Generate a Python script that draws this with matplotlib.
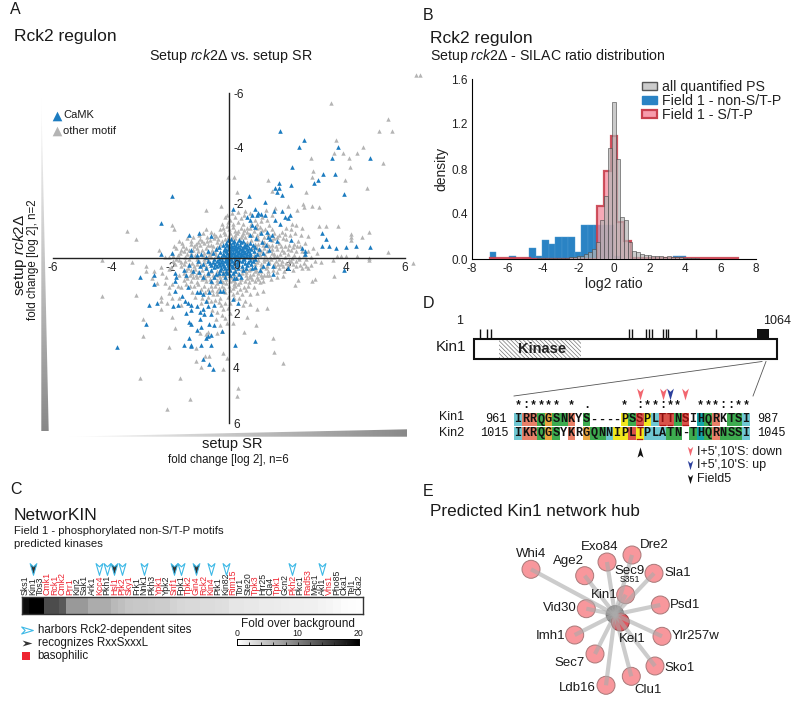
import matplotlib
matplotlib.use('Agg')
import matplotlib.pyplot as plt
import numpy as np
from matplotlib.patches import Rectangle, Polygon, Circle, Patch
from matplotlib.path import Path

plt.rcParams['font.family'] = ['Liberation Sans', 'DejaVu Sans']
plt.rcParams['mathtext.fontset'] = 'custom'
plt.rcParams['mathtext.it'] = 'Liberation Sans:italic'
plt.rcParams['mathtext.rm'] = 'Liberation Sans'
plt.rcParams['hatch.linewidth'] = 0.5
plt.rcParams['axes.unicode_minus'] = False

W, H = 800, 705

# panel A (setup SR, setup rck2D)
camk = [(1.75,-4.63),(2.56,-4.30),(2.38,-4.05),(3.73,-4.05),(3.51,-3.64),(4.82,-3.64),(2.15,-3.31),(3.20,-3.05),
        (3.60,-3.06),(3.05,-2.83),(2.91,-2.72),(1.70,-2.72),(1.58,-2.56),(1.72,-2.56),(2.10,-2.64),(1.65,-2.40),(1.80,-2.28),
        (3.93,-2.31),(-1.94,-2.24),(0.67,-2.24),(1.23,-2.04),(0.14,-1.77),(0.88,-1.78),(1.00,-1.65),(1.08,-1.60),(1.22,-1.57),
        (0.95,-1.55),(0.80,-1.55),(0.62,-1.50),(0.70,-1.38),(1.55,-1.72),(1.80,-1.72),(1.90,-1.50),(2.00,-1.45),(2.08,-1.55),
        (1.58,-1.40),(1.75,-1.25),(0.78,-1.20),(0.90,-1.12),(-2.33,-1.28),(3.18,-0.90),(3.32,-0.70),(3.18,-0.45),(3.40,-0.42),
        (3.64,-0.35),(3.98,-0.40),(4.32,-0.44),(4.82,-0.40),(2.50,-0.38),(2.58,-0.25),(2.60,-0.15),(-1.36,-0.85),(-1.02,-0.92),
        (-0.60,-0.80),(1.30,-0.95),(1.45,-0.85),(1.10,-0.90),(1.40,-0.70),(1.65,-0.62),(2.10,-0.65),(-2.32,-0.16),(-1.94,-0.20),
        (-1.30,-0.28),(-1.28,-0.12),(-0.95,-0.15),(1.50,0.30),(2.02,0.35),(3.93,0.42),(-1.02,0.50),(1.50,0.58),(-3.03,0.70),
        (-2.55,0.62),(-1.85,0.55),(-1.80,0.70),(-1.85,0.85),(-1.45,0.62),(-2.55,0.95),(-1.85,1.20),(-1.40,1.05),(-1.10,1.25),
        (-1.00,1.25),(-0.90,1.30),(-0.68,1.25),(-0.30,1.20),(-0.20,1.20),(-1.60,1.38),(-1.50,1.55),(-1.40,1.62),(-2.73,1.70),
        (-2.45,1.65),(-1.92,1.75),(-1.75,1.72),(-1.30,1.70),(-1.10,1.75),(-0.78,1.58),(-0.90,1.85),(-0.70,1.75),(-0.52,1.70),
        (0.15,1.50),(0.30,1.65),(-1.45,2.00),(-1.30,1.90),(-1.00,1.95),(-0.85,2.05),(-0.62,2.05),(-1.00,2.20),(-1.35,2.32),
        (-1.28,2.40),(-2.82,2.41),(-0.95,2.50),(-0.68,2.40),(-0.52,2.42),(-1.10,2.60),(-0.25,2.65),(-0.70,2.85),(-0.62,2.80),
        (-0.80,2.90),(-1.35,2.90),(-1.30,3.15),(-1.55,3.18),(-1.28,3.20),(-0.95,3.18),(-0.62,3.18),(0.20,3.15),(0.90,3.00),
        (-3.83,3.25),(-0.88,3.68),(-0.68,3.85),(-0.55,4.05)]

camk_core = [(-0.02,-0.65),(0.08,-0.68),(0.18,-0.62),(0.33,-0.66),(0.47,-0.63),(-0.10,-0.56),(0.03,-0.53),(0.13,-0.58),(0.27,-0.54),
             (0.40,-0.57),(0.55,-0.52),(0.72,-0.56),(-0.20,-0.47),(-0.06,-0.49),(0.07,-0.45),(0.17,-0.48),(0.24,-0.44),(0.36,-0.47),
             (0.50,-0.45),(0.63,-0.49),(0.83,-0.46),(-0.33,-0.40),(-0.12,-0.38),(0.01,-0.42),(0.11,-0.39),(0.21,-0.37),(0.31,-0.41),
             (0.44,-0.38),(0.56,-0.40),(0.68,-0.37),(0.90,-0.41),(-0.45,-0.32),(-0.18,-0.30),(-0.03,-0.34),(0.06,-0.31),(0.16,-0.33),
             (0.27,-0.29),(0.38,-0.32),(0.47,-0.30),(0.60,-0.34),(0.75,-0.31),(1.02,-0.33),(-0.70,-0.25),(-0.30,-0.23),(-0.09,-0.26),
             (0.03,-0.24),(0.13,-0.22),(0.24,-0.26),(0.33,-0.23),(0.43,-0.25),(0.55,-0.22),(0.66,-0.26),(0.85,-0.24),(-0.55,-0.18),
             (-0.22,-0.16),(-0.07,-0.19),(0.05,-0.17),(0.15,-0.20),(0.22,-0.15),(0.30,-0.18),(0.41,-0.16),(0.51,-0.19),(0.60,-0.15),
             (0.72,-0.18),(0.95,-0.16),(-1.10,-0.10),(-0.38,-0.08),(-0.16,-0.12),(-0.02,-0.09),(0.08,-0.11),(0.17,-0.07),(0.26,-0.10),
             (0.36,-0.08),(0.46,-0.12),(0.58,-0.09),(0.70,-0.11),(0.88,-0.08),(-0.80,-0.04),(-0.28,-0.03),(-0.10,-0.05),(0.04,-0.02),
             (0.20,-0.04),(0.32,-0.03),(0.50,-0.05),(0.67,-0.03),(-0.50,0.05),(-0.35,0.03),(-0.23,0.06),(-0.10,0.04),(-0.03,0.07),
             (0.06,0.05),(0.20,0.03),(0.35,0.06),(0.52,0.04),(0.70,0.07),(0.90,0.05),(-1.05,0.12),(-0.72,0.10),(-0.55,0.13),(-0.40,0.11),
             (-0.28,0.14),(-0.15,0.10),(-0.05,0.13),(0.10,0.11),(0.26,0.14),(0.44,0.10),(0.65,0.13),(0.82,0.11),(-0.90,0.20),(-0.65,0.18),
             (-0.48,0.21),(-0.33,0.19),(-0.20,0.22),(-0.08,0.18),(0.03,0.21),(0.16,0.19),(0.32,0.22),(0.55,0.18),(0.75,0.21),(-1.00,0.28),
             (-0.60,0.26),(-0.42,0.29),(-0.30,0.27),(-0.17,0.30),(-0.04,0.26),(0.09,0.29),(0.28,0.27),(0.45,0.30),(0.62,0.26),(-0.78,0.36),
             (-0.50,0.34),(-0.27,0.37),(-0.13,0.35),(-0.02,0.38),(0.14,0.34),(0.30,0.37),(0.58,0.35),(0.80,0.38),(-0.62,0.45),(-0.30,0.43),
             (-0.10,0.46),(0.05,0.44),(0.20,0.47),(0.48,0.43),(-0.70,0.55),(-0.35,0.53),(-0.08,0.56),(0.12,0.54),(0.35,0.57),(-0.50,0.70),
             (-0.15,0.68),(0.18,0.72),(-0.45,0.58),(-0.20,0.55),(0.05,0.60),(0.25,0.72),(0.40,0.68),(1.05,0.42),(0.90,0.32),
             (1.12,-0.60),(1.25,-0.48),(1.32,-0.78),(0.92,-0.72),(0.72,-0.82),(1.15,-0.20),(1.32,0.18),(1.15,0.28),(1.38,-0.30),(-1.35,0.25),
             (-1.52,0.42),(-1.22,0.48),(-0.88,0.68),(-0.62,0.82),(-0.30,0.85)]

other_motif = [(3.48,-5.63),(5.42,-5.05),(5.13,-4.63),(5.57,-4.63),(3.64,-4.30),(4.56,-4.05),(3.59,-3.83),(3.88,-3.83),
               (4.35,-3.83),(4.10,-3.64),(2.78,-3.64),(5.26,-3.47),(4.13,-3.31),(2.88,-3.18),(2.84,-2.94),(3.95,-2.83),
               (1.32,-2.83),(-0.02,-2.94),(0.17,-2.94),(4.70,-2.56),(1.45,-2.45),(2.61,-2.39),(0.28,-2.39),(6.37,-6.65),(6.52,-6.65),
               (6.28,0.18),(4.78,-0.93),(4.15,-0.88),(4.15,-0.76),(4.15,-0.64),(4.52,-0.75),(3.70,-1.18),(3.31,-1.18),(3.07,-1.18),
               (3.08,-1.85),(2.84,-1.90),(2.51,-1.97),(2.56,-1.87),(2.31,-1.75),(2.02,-1.90),(1.57,-1.81),(-0.27,-1.90),(-0.80,-1.73),
               (-1.93,-1.21),(-1.88,-1.04),(-3.48,-0.99),(-3.18,-0.70),(-2.39,-0.29),(-4.32,0.06),(-3.32,0.13),(5.41,-0.21),(4.78,0.00),
               (4.78,0.08),(4.35,-0.06),(4.00,-0.09),(3.83,-0.06),(3.68,-0.09),(3.55,0.08),(3.12,0.15),(2.93,0.12),(3.58,0.67),(2.82,0.85),
               (2.93,0.76),(2.34,0.81),(2.25,0.97),(1.83,0.64),(-2.84,0.30),(-2.84,0.48),(-2.55,0.46),(-4.32,1.39),(-3.18,1.35),(-2.94,2.21),
               (-2.94,2.84),(-2.31,1.43),(-2.31,1.57),(-2.31,1.87),(-1.93,2.14),(-1.84,2.54),(-2.05,3.24),(-3.05,4.37),(-1.68,4.38),(-1.32,5.14),
               (-2.11,5.50),(0.30,4.73),(0.26,5.03),(1.85,3.81),(1.55,3.42),(1.51,2.90),(0.91,2.45),(0.52,2.69),(0.60,2.14),(1.28,1.82),
               (0.97,1.85),(1.17,1.21),(0.94,1.29),(0.66,1.03),(0.15,2.36),(-0.06,2.36),(-0.23,2.64),(-0.42,2.72),(-0.19,3.47),(-0.06,3.65),
               (-0.19,4.03),(-1.14,3.75),(-0.95,3.97),(-0.82,3.55),(-0.67,3.55),(-0.99,2.72),(-1.13,3.26),(-0.78,2.75),(-0.70,2.70),
               (-0.10,0.90),(-0.05,1.40),(-0.03,1.80),(0.02,2.00),(-0.15,1.65),(-0.30,1.45),(-0.55,1.30),(-0.35,1.10),(-0.60,1.00),(-0.85,1.00),
               (-1.05,0.95),(-1.30,0.85),(-1.55,0.80),(-1.75,1.00),(-2.05,1.05),(-2.45,0.90),(-2.15,0.70),(-2.30,0.55),(-2.05,0.40),
               (0.15,1.10),(0.30,0.95),(0.55,0.85),(0.80,0.75),(1.00,0.75),(1.15,0.85),(0.45,1.30),(0.85,1.05),(1.35,0.60),(1.65,0.70)]

other_core = [(0.20,-1.50),(0.50,-1.55),(0.90,-1.40),(-0.05,-1.30),(0.30,-1.30),(0.75,-1.25),(1.10,-1.35),(1.35,-1.20),(-0.25,-1.25),
              (-0.90,-0.90),(-0.60,-0.95),(-0.45,-0.80),(-0.20,-1.10),(0.00,-1.05),(0.20,-1.00),(0.40,-1.10),(0.60,-0.95),(0.85,-1.00),
              (1.05,-0.95),(1.55,-0.90),(1.80,-0.95),(2.25,-0.90),(2.45,-0.85),(2.70,-0.80),(-1.60,-0.55),(-1.30,-0.50),(-1.05,-0.60),
              (-0.85,-0.55),(-0.65,-0.65),(-0.40,-0.60),(-0.15,-0.70),(0.10,-0.75),(0.35,-0.70),(0.55,-0.75),(0.75,-0.65),(1.00,-0.70),
              (1.20,-0.60),(1.45,-0.65),(1.70,-0.55),(1.95,-0.70),(2.20,-0.50),(2.60,-0.55),(2.85,-0.35),(3.00,-0.20),(-1.80,-0.35),
              (-1.55,-0.25),(-1.10,-0.35),(-0.80,-0.35),(-0.55,-0.45),(-0.30,-0.50),(0.45,-0.85),(0.90,-0.50),(1.10,-0.25),(1.35,-0.42),
              (1.55,-0.15),(1.80,-0.28),(2.00,-0.15),(2.30,-0.25),(2.80,-0.05),(-2.05,-0.05),(-1.75,-0.10),(-1.50,-0.05),(-1.15,-0.10),
              (-0.85,-0.20),(-0.45,-0.10),(1.40,-0.05),(1.65,-0.08),(1.90,-0.02),(2.15,0.00),(2.40,-0.05),(-1.70,0.08),(-1.50,0.12),
              (-1.35,0.05),(-1.10,0.05),(-0.85,0.05),(1.10,0.22),(1.35,0.15),(1.60,0.10),(1.80,0.12),(2.05,0.08),(2.30,0.12),(2.55,0.18),
              (2.80,0.25),(-1.65,0.30),(-1.40,0.35),(-1.15,0.40),(-0.95,0.25),(1.25,0.38),(1.70,0.35),(1.85,0.30),(2.30,0.30),(2.50,0.35),
              (2.70,0.35),(-1.55,0.55),(-1.25,0.55),(-1.10,0.70),(-0.85,0.60),(-0.65,0.75),(-0.50,0.70),(-0.30,0.70),(-0.10,0.75),(0.15,0.80),
              (0.45,0.55),(0.70,0.60),(1.00,0.55),(1.20,0.60),(-2.18,-0.02),(-1.92,0.12),(-1.83,0.22),(-1.58,-0.42),(-1.42,-0.72),(-1.22,-0.78),
              (-1.02,-0.82),(-0.75,-0.78),(-0.62,-0.48),(-0.50,-0.72),(-0.32,-0.82),(-0.12,-0.88),(0.05,-0.92),(0.28,-0.90),(0.68,-0.88),(0.95,-0.82),
              (1.18,-0.78),(1.38,-0.82),(1.62,-0.78),(1.85,-0.72),(2.05,-0.48),(2.35,-0.62),(2.42,-0.42),(-1.38,-0.30),(-1.20,-0.42),(-0.98,-0.48),
              (-0.72,-0.48),(-0.58,-0.30),(-0.88,-0.12),(-0.68,-0.12),(-0.60,-0.05),(0.80,-0.40),(1.00,-0.50),(1.15,-0.48),(1.28,-0.25),(1.48,-0.48),
              (1.62,-0.32),(1.92,-0.42),(2.12,-0.30),(1.05,-0.12),(1.22,-0.10),(1.45,-0.18),(1.75,-0.15),(2.20,-0.12),(2.55,-0.12),(2.62,0.02),
              (-1.95,-0.20),(-1.30,-0.18),(-1.05,-0.25),(-1.25,0.18),(-1.55,0.22),(-1.08,0.22),(-0.80,0.28),(0.88,0.20),(1.00,0.08),(1.18,0.02),
              (1.42,0.05),(1.52,0.22),(1.68,0.20),(1.95,0.18),(2.18,0.22),(2.42,0.25),(-1.45,0.45),(-1.28,0.42),(-1.05,0.52),(-0.92,0.42),(-0.72,0.50),
              (-0.55,0.62),(-0.38,0.60),(-0.22,0.62),(-0.02,0.50),(0.18,0.60),(0.32,0.55),(0.55,0.45),(0.68,0.45),(0.92,0.42),(1.10,0.48),(1.32,0.48),
              (1.50,0.45),(-1.72,0.62),(-1.42,0.72),(-1.22,0.68),(-0.92,0.78),(-0.78,0.85),(-0.42,0.80),(-0.22,0.88),(0.02,0.82),(0.28,0.72),(0.42,0.78),
              (0.62,0.72),(0.82,0.58),(0.95,0.68),(1.12,0.70),(1.42,0.75),(-1.45,0.95),(-1.18,1.02),(-0.95,1.12),(-0.70,1.12),(-0.48,1.02),(-0.25,1.00),
              (0.00,1.02),(0.18,0.95),(0.50,1.05),(0.68,0.88),(-0.92,1.45),(-0.72,1.40),(-0.40,1.30),(-0.12,1.22),(0.12,1.32),(0.28,1.22),(-0.62,1.55),
              (-0.35,1.60),(-0.20,1.85),(0.35,1.45),(0.55,1.55),(0.72,1.68),(-0.42,1.95),(-0.25,2.08),(0.05,1.62),(-0.80,-1.05),(-0.32,-1.05),(-0.08,-1.18),
              (0.12,-1.22),(0.48,-1.22),(0.60,-1.10),(1.05,-1.12),(1.22,-1.05),(1.48,-1.05),(0.10,-1.62),(0.32,-1.68),(0.55,-1.72),(0.72,-1.62),(-0.08,-1.55),
              (0.05,-1.40),(-0.15,-1.48),(0.42,-1.45),(0.95,-1.25),(1.12,-1.48),(1.30,-1.38),(1.25,-1.75),(1.45,-1.55),(2.15,-1.25),(2.30,-1.20),(2.48,-1.10),
              (2.10,-1.05),(1.95,-1.10),(-0.72,-0.22),(-0.92,-0.30),(0.62,-0.60),(0.22,-0.82),(0.48,-0.92),(0.78,-0.85),(0.92,-0.68),(1.12,-0.62),(1.30,-0.52),
              (0.95,-0.38),(1.05,-0.30),(1.18,-0.38),(0.98,-0.20),(0.85,-0.12),(0.80,0.00),(0.95,0.15),(1.20,0.12),(1.30,0.28),(1.08,0.32),(0.85,0.35),
              (0.72,0.40),(0.45,0.40),(0.22,0.40),(-0.10,0.52),(-0.22,0.48),(-0.42,0.48),(-0.60,0.48),(-0.70,0.62),(-0.85,0.15),(-0.72,0.02),(-0.62,-0.18),
              (-0.48,-0.22),(-0.42,-0.40),(-0.25,-0.62),(-0.05,-0.78),(0.22,-0.72),(0.40,-0.78),(-1.68,-0.18),(-1.48,-0.38),(-1.30,-0.62),(-0.98,-0.70)]

other_ring = [(-1.98,0.32),(-1.88,-0.42),(-1.72,-0.62),(-1.62,-0.30),(-1.42,-0.15),(-1.22,-0.30),(-1.12,-0.52),(-0.92,-0.62),(-0.75,-0.62),(-0.52,-0.88),
              (-0.38,-0.70),(-0.18,-0.95),(0.12,-1.12),(0.32,-0.98),(0.52,-1.02),(0.72,-1.08),(0.95,-1.08),(1.12,-1.02),(1.32,-0.88),(1.52,-0.72),(1.72,-0.85),
              (1.92,-0.88),(2.08,-0.82),(1.48,-0.32),(1.60,-0.42),(1.78,-0.42),(1.88,-0.22),(2.02,-0.32),(2.18,-0.40),(2.32,-0.45),(2.48,-0.25),(2.70,-0.25),
              (1.28,0.05),(1.52,-0.02),(1.72,0.02),(1.58,0.30),(1.78,0.22),(2.02,0.25),(2.12,0.12),(2.38,0.05),(2.62,0.28),(2.18,0.42),(1.88,0.48),(1.62,0.52),
              (1.28,0.62),(1.08,0.62),(0.88,0.48),(0.58,0.52),(-1.38,0.20),(-1.18,0.30),(-1.02,0.12),(-1.62,0.15),(-1.80,0.05),(-1.92,-0.08),(-1.48,0.65),
              (-1.32,0.62),(-1.12,0.60),(-0.98,0.62),(-0.82,0.72),(-0.58,0.88),(-0.42,0.92),(-0.28,0.80),(-0.12,0.62),(0.08,0.70),(0.22,0.88),(0.38,0.88),(0.58,0.62),
              (0.72,0.68),(0.88,0.85),(1.05,0.88),(-1.62,1.05),(-1.32,1.00),(-1.08,0.88),(-0.82,1.22),(-0.58,1.18),(-0.42,1.20),(-0.18,1.10),(0.05,1.15),(0.22,1.02),
              (0.38,1.12),(0.58,1.18),(0.72,1.32),(-1.25,1.22),(-1.15,1.42),(-0.95,1.62),(-0.75,1.58),(-0.48,1.52),(-0.28,1.72),(0.18,1.45),(0.48,1.72),(-0.58,1.88),
              (-0.45,2.22),(-0.12,2.18),(-0.32,2.45),(-1.72,1.45),(-1.62,1.72),(-1.95,1.45),(-2.12,1.62),(-2.05,1.28),(-1.95,0.95),(-2.18,0.92),(-2.32,0.32),(-2.62,0.72)]

# panel B, density per bin
blue_heights = [.065,0,0,.03,0,.005,.10,.03,.165,.13,.20,.20,.20,.06,.30,.30,.30,.30,.30,.03,0,0,0,0,0,0,0,0,.03,.03,0,0,0,0,0,0,0,0]
red_heights = [.005,.005,.005,.005,.005,.005,0,0,0,0,0,0,0,0,0,0,.47,.78,1.09,.33,.16,.005,.005,.005,.005,.005,.005,.005,.005,.005,
               .005,.005,.005,.005,.005,.005,.005]
grey_heights = [0,0,0,0,0,.002,.002,.003,.003,.003,.004,.004,.005,.005,.006,.006,.008,.008,.01,.012,.015,.02,.025,.03,.045,.06,.09,.15,.35,.56,.99,1.40,
                .89,.37,.35,.15,.07,.06,.045,.035,.035,.03,.025,.025,.02,.025,.015,.02,.015,.01,.01,.006,.005,.004,.004,.003,.003,.002,.002,0,0,0,0]

# panel C
kinases = ['Sks1','Kin1','Tos3','Cmk1','Rck1','Cmk2','Prr1','Kin2','Sak1','Ark1','Kcc4','Pkh1','Hsl1','Ptk2','Sky1','Frk1',
           'Nnk1','Pkh3','Ypk1','Ypk2','Snf1','Fpk1','Tpk2','Gin4','Rck2','Kin4','Ptk1','Kin82','Rim15','Tor1','Ste20','Tpk3',
           'Hrr25','Cla4','Tpk1','Gcn2','Pkh2','Pkc1','Rad53','Mec1','Akl1','Vhs1','Pho85','Cka1','Tel1','Cka2']
fold_values = [19,20,20,14,14,13,8,8,8,6.5,6.5,6.5,5.5,5,4.5,4.3,4.3,4.2,4,4,3.5,3.2,3,3,2.8,2.8,2.6,2.5,2,2,1.8,1.8,1.6,1.6,1.5,
               1.4,1.3,1.3,1.2,1.2,1,.8,.6,.3,.2,.1]
basophilic = ['Cmk1','Rck1','Cmk2','Prr1','Kcc4','Hsl1','Ptk2','Sky1','Ypk1','Snf1','Tpk2','Gin4','Rck2','Kin4','Rim15','Tpk3',
              'Tpk1','Pkh2','Rad53','Vhs1']
rck2_sites = ['Kcc4','Pkh1','Ptk2','Nnk1','Fpk1','Kin4','Kin82','Pkh2','Akl1']
rxxs_sites = ['Kin1','Hsl1','Snf1','Gin4']

# panel D
site_residues = [21,46,59,545,555,606,615,625,664,674,683,782,850]
kin1_seq = 'IRRQGSNKYS----PSSPLTTNSIHQRKTSI'
kin2_seq = 'IKRQGSYKRGQNNIPLTPLATN-THQRNSSI'
conservation = '*:**** * .    * :**:**  ***::**'
cell_colors = {'c':'#6fc7d2','s':'#e98068','g':'#3dab4f','o':'#eaa63f','y':'#f3e61c','t':'#12a5a8','r':'#d9534a','.':'white'}
kin1_fill = 'cssgoggs.g....ygrycrrgr.tgs.ggc'
kin2_fill = 'cssgog.s.oggcyyrycccgg.gtgsgggc'
marked_kin1 = [16,19,20,22]
marked_kin2 = [16]

# panel E
hub_nodes = ['Whi4','Age2','Exo84','Dre2','Sla1','Sec9','Psd1','Vid30','Imh1','Ylr257w','Sec7','Sko1','Clu1','Ldb16']

fig = plt.figure(figsize=(W / 100, H / 100), dpi=100)


def axes_px(left, top, right, bottom, **kw):
    return fig.add_axes([left / W, 1 - bottom / H, (right - left) / W, (bottom - top) / H], **kw)


over = axes_px(0, 0, W, H)
over.set_xlim(0, W)
over.set_ylim(H, 0)
over.axis('off')
over.patch.set_alpha(0)


def label(x, y, s, size=9, ha='left', va='center', **kw):
    over.text(x, y, s, fontsize=size, ha=ha, va=va, color=kw.pop('color', '#1a1a1a'), **kw)


for letter, x, y in [('A', 10, 9), ('B', 423, 16), ('C', 10, 489), ('D', 423, 303), ('E', 423, 491)]:
    label(x, y, letter, size=11.5)

# A
label(14, 37, 'Rck2 regulon', size=12.5)
label(231, 56, r'Setup $\mathit{rck2}$Δ vs. setup SR', size=10.3, ha='center')
label(232, 444, 'setup SR', size=10.5, ha='center')
label(228, 460, 'fold change [log 2], n=6', size=8.3, ha='center')
label(20, 255, r'setup $\mathit{rck2}$Δ', size=11, ha='center', rotation=90)
label(33, 260, 'fold change [log 2], n=2', size=8.3, ha='center', rotation=90)


def wedge(pts, extent, horizontal):
    grad = np.linspace(1, 0, 256).reshape(1, -1) if horizontal else np.linspace(1, 0, 256).reshape(-1, 1)
    im = over.imshow(grad, extent=extent, cmap='gray', vmin=-1.15, vmax=1, aspect='auto', zorder=1)
    im.set_clip_path(Polygon(pts, closed=True, transform=over.transData))


wedge([(41.3, 95), (48.7, 431), (41.3, 431)], (41.3, 48.7, 431, 95), False)
wedge([(66, 436.7), (407, 429.3), (407, 436.7)], (66, 407, 436.7, 429.3), True)
over.set_xlim(0, W)
over.set_ylim(H, 0)

ax = axes_px(53, 93, 405, 423)
ax.patch.set_alpha(0)
ax.set_xlim(-6, 6)
ax.set_ylim(6, -6)
gx, gy = np.array(other_motif + other_core + other_ring).T
bx, by = np.array(camk + camk_core).T
ax.scatter(gx, gy, marker='^', s=10, color='#b4b4b4', linewidths=0, clip_on=False, zorder=2)
ax.scatter(bx, by, marker='^', s=11, color='#1c7cc0', linewidths=0, clip_on=False, zorder=3)
ax.spines[['left', 'top']].set_visible(False)
ax.spines['bottom'].set_position('zero')
ax.spines['right'].set_position('zero')
for sp in ['bottom', 'right']:
    ax.spines[sp].set_linewidth(1.0)
    ax.spines[sp].set_color('#222222')
    ax.spines[sp].set_zorder(4)
ax.yaxis.tick_right()
ax.set_xticks([-6, -4, -2, 2, 4, 6])
ax.set_yticks([-6, -4, -2, 2, 4, 6])
ax.tick_params(length=0, labelsize=8.5, pad=3, labelcolor='#222222')
ax.text(0.28, 0.3, '0', fontsize=8.5, ha='center', va='center', color='#222222')
over.scatter([57], [115.5], marker='^', s=48, color='#1c7cc0', linewidths=0, zorder=5)
over.scatter([57], [131], marker='^', s=48, color='#b4b4b4', linewidths=0, zorder=5)
label(63, 115.5, 'CaMK', size=8)
label(63, 131, 'other motif', size=8)

# B
label(430, 38, 'Rck2 regulon', size=12.5)
label(430, 56, r'Setup $\mathit{rck2}$Δ - SILAC ratio distribution', size=10.2)
hx = axes_px(472, 79, 756, 259)
hx.patch.set_alpha(0)
blue_edges = np.linspace(-7, 7, len(blue_heights) + 1)
red_edges = np.linspace(-7, 7, len(red_heights) + 1)
grey_edges = np.linspace(-7, 7, len(grey_heights) + 1)
hx.bar(blue_edges[:-1], blue_heights, width=np.diff(blue_edges), align='edge', color='#2a83c4', edgecolor='#4f9bd0', linewidth=0.3, zorder=2)
hx.stairs(red_heights, red_edges, fill=True, color='#f58c9f', alpha=0.75, zorder=3)
hx.stairs(red_heights, red_edges, color='#c9404e', linewidth=1.6, alpha=0.9, zorder=3)
hx.bar(grey_edges[:-1], grey_heights, width=np.diff(grey_edges), align='edge', color='#b5b5b5', alpha=0.7, edgecolor='#4a4a4a', linewidth=0.6, zorder=4)
hx.set_xlim(-8, 8)
hx.set_ylim(0, 1.6)
hx.set_xticks(np.arange(-8, 9, 2))
hx.set_yticks([0, .4, .8, 1.2, 1.6])
hx.set_yticklabels(['0.0', '0.4', '0.8', '1.2', '1.6'])
hx.tick_params(length=0, labelsize=8.5, pad=3, labelcolor='#222222')
hx.spines[['top', 'right']].set_visible(False)
hx.set_xlabel('log2 ratio', fontsize=10, labelpad=1, color='#222222')
hx.set_ylabel('density', fontsize=10, labelpad=2, color='#222222')
handles = [Patch(facecolor='#cccccc', edgecolor='#555555', linewidth=1),
           Patch(facecolor='#2a83c4', edgecolor='#2a83c4', linewidth=1),
           Patch(facecolor='#f79cac', edgecolor='#c9404e', linewidth=1.6)]
hx.legend(handles, ['all quantified PS', 'Field 1 - non-S/T-P', 'Field 1 - S/T-P'], loc='upper left',
          bbox_to_anchor=(0.6, 0.994), frameon=False, fontsize=10.2, handlelength=1.0, handleheight=0.45,
          labelspacing=0.0, handletextpad=0.35, borderpad=0, borderaxespad=0, labelcolor='#222222')

# C
label(14, 516, 'NetworKIN', size=12.5)
label(14, 531, 'Field 1 - phosphorylated non-S/T-P motifs', size=8.2)
label(14, 544, 'predicted kinases', size=8.2)
cx = axes_px(21.5, 597, 363, 614)
cx.patch.set_alpha(0)
cx.pcolormesh(np.arange(len(kinases) + 1), [0, 1], np.array([fold_values]), cmap='gray_r', vmin=0, vmax=20)
cx.set_xticks(np.arange(len(kinases)) + 0.5)
cx.set_xticklabels(kinases, rotation=90, fontsize=6.3)
cx.xaxis.tick_top()
cx.set_yticks([])
cx.tick_params(length=0, pad=1.5)
for tick, name in zip(cx.get_xticklabels(), kinases):
    tick.set_color('#ee2430' if name in basophilic else '#222222')
for sp in cx.spines.values():
    sp.set_linewidth(1)
    sp.set_color('#333333')

arrow_down = Path([(-.58, 1), (0, 0.45), (.58, 1), (0, -1), (-.58, 1)], closed=True)
arrow_right = Path([(-1, 0.6), (-0.4, 0), (-1, -0.6), (1, 0), (-1, 0.6)], closed=True)
arrow_up = Path([(-.58, -1), (0, -0.55), (.58, -1), (0, 1), (-.58, -1)], closed=True)
cx.scatter([kinases.index(n) + .5 for n in rck2_sites], [2.65] * len(rck2_sites), marker=arrow_down, s=72,
           facecolors='white', edgecolors='#3cb8e6', linewidths=0.8, clip_on=False)
cx.scatter([kinases.index(n) + .5 for n in rxxs_sites], [2.65] * len(rxxs_sites), marker=arrow_down, s=72,
           facecolors='#333333', edgecolors='#3cb8e6', linewidths=0.7, clip_on=False)
cx.set_xlim(0, len(kinases))
cx.set_ylim(0, 1)
over.scatter([27], [630], marker=arrow_right, s=70, facecolors='white', edgecolors='#3cb8e6', linewidths=0.8)
over.scatter([27], [643], marker=arrow_right, s=50, color='#333333', linewidths=0)
over.scatter([25.5], [656], marker='s', s=26, color='#ee2430', linewidths=0)
label(37.5, 630, 'harbors Rck2-dependent sites', size=8.3)
label(37.5, 643, 'recognizes RxxSxxxL', size=8.3)
label(37.5, 656.5, 'basophilic', size=8.3)

bar = axes_px(237, 639, 358.5, 645)
bar.imshow(np.linspace(0, 20, 256).reshape(1, -1), cmap='gray_r', aspect='auto', extent=(0, 20, 0, 1))
bar.set_xticks(np.arange(2, 20, 2))
bar.set_xticklabels([])
bar.set_yticks([])
bar.tick_params(axis='x', direction='in', top=False, length=2, width=0.7, color='#222222')
for sp in bar.spines.values():
    sp.set_linewidth(0.7)
label(298, 624, 'Fold over background', size=8.5, ha='center')
for v in [0, 10, 20]:
    label(237 + v * 6.07, 634, str(v), size=6.3, ha='center')

# D
box_l, box_r = 474, 776.7


def res_x(r):
    return box_l + (box_r - box_l) * r / 1064


over.add_patch(Rectangle((box_l, 338.5), box_r - box_l, 20, fill=False, edgecolor='#111111', linewidth=1.5, zorder=3))
over.add_patch(Rectangle((res_x(89), 339), res_x(376) - res_x(89), 19, facecolor='white', edgecolor='#777777', linewidth=0, hatch='\\\\\\\\\\\\\\\\', zorder=2))
label(542, 349, 'Kinase', size=10.5, ha='center', zorder=4, fontweight='bold', color='#222222')
over.vlines([res_x(r) for r in site_residues], 329, 338.5, color='#111111', linewidth=1)
over.add_patch(Rectangle((res_x(996), 329), res_x(1036) - res_x(996), 9.5, facecolor='#111111', edgecolor='none'))
label(460, 321, '1', size=9, ha='center')
label(777, 321, '1064', size=9, ha='center')
label(466, 347, 'Kin1', size=11, ha='right')
over.plot([514, 762], [396, 361.5], color='#555555', linewidth=0.6)
over.plot([753, 766], [396, 361.5], color='#555555', linewidth=0.6)

seq_x0, col_w = 514.3, 7.6
rows = [(kin1_seq, kin1_fill, marked_kin1, 419.5), (kin2_seq, kin2_fill, marked_kin2, 433)]
for seq, fills, marked, yc in rows:
    for i, aa in enumerate(seq):
        x = seq_x0 + col_w * i
        if fills[i] not in '. ':
            over.add_patch(Rectangle((x, yc - 6.5), col_w + 0.1, 13, facecolor=cell_colors[fills[i]], edgecolor='none', zorder=2))
        over.text(x + col_w / 2, yc, aa, fontsize=8.6, family='Liberation Mono', fontweight='bold', ha='center', va='center',
                  color='#8a0f0f' if i in marked else '#111111', zorder=3)
        if i in marked:
            over.plot([x + 1.5, x + col_w - 1.5], [yc + 5.5, yc + 5.5], color='#b01515', linewidth=0.9, zorder=3)
for i, c in enumerate(conservation):
    over.text(seq_x0 + col_w * (i + .5), 405.5, c, fontsize=8.6, family='Liberation Mono', fontweight='bold', ha='center', va='center', color='#111111')
label(439, 417, 'Kin1', size=9)
label(439, 433, 'Kin2', size=9)
for x, y, s, ha in [(506.5, 419.5, '961', 'right'), (508.5, 433, '1015', 'right'), (757, 419.5, '987', 'left'), (757, 433, '1045', 'left')]:
    over.text(x, y, s, fontsize=8.6, family='Liberation Mono', ha=ha, va='center', color='#111111')
for col, c in [(16, '#f2666f'), (19, '#f2666f'), (20, '#2b3f9c'), (22, '#f2666f')]:
    over.scatter([seq_x0 + col_w * (col + .5)], [394], marker=arrow_down, s=72, color=c, linewidths=0, zorder=4)
over.scatter([seq_x0 + col_w * 16.5], [452], marker=arrow_up, s=55, color='#111111', linewidths=0)
for y, c, s in [(451, '#f2666f', "I+5',10'S: down"), (465, '#2b3f9c', "I+5',10'S: up"), (479, '#111111', 'Field5')]:
    over.scatter([690], [y], marker=arrow_down, s=45, color=c, linewidths=0)
    label(697, y, s, size=9)

# E
label(430, 512, 'Predicted Kin1 network hub', size=12.3)
hub = (615, 614.5)
kel1 = (620.3, 622)
node_pos = [(531, 569.3), (584.7, 575.7), (607, 562), (632, 555), (654, 573.3), (625.7, 594.7), (660.3, 605), (586.3, 608.7),
            (574.7, 635), (662, 636.3), (595, 654), (655, 666), (631.3, 676.3), (606, 685.3)]
node_label = [(531, 554, 'center'), (568.7, 561, 'center'), (599.3, 547, 'center'), (654, 545.5, 'center'), (664.3, 572.7, 'left'),
              (629.7, 571, 'center'), (670, 604.7, 'left'), (576.7, 608.3, 'right'), (565, 635.7, 'right'), (671.7, 636, 'left'),
              (585, 663.3, 'right'), (664.3, 667.7, 'left'), (648.3, 690.3, 'center'), (596, 688, 'right')]
for (x, y) in node_pos:
    over.add_patch(Circle((x, y), 9, facecolor='#f8979c', edgecolor='#a87878', linewidth=0.7, zorder=2))
over.add_patch(Circle(hub, 9, facecolor='#808080', edgecolor='#707070', linewidth=0.5, zorder=2))
over.add_patch(Circle(kel1, 9, facecolor='#e0565f', edgecolor='#8a4040', linewidth=0.7, zorder=2))
for (x, y) in node_pos:
    over.plot([hub[0], x], [hub[1], y], color='#aaaaaa', alpha=0.6, linewidth=3, solid_capstyle='butt', zorder=3)
for name, (x, y, ha) in zip(hub_nodes, node_label):
    label(x, y, name, size=9.5, ha=ha, zorder=5)
label(629.7, 580, 'S351', size=6.3, ha='center', zorder=5)
label(604, 595, 'Kin1', size=9.5, ha='center', zorder=5)
label(632, 638.7, 'Kel1', size=9.5, ha='center', zorder=5)

fig.savefig('out.png', dpi=100)
